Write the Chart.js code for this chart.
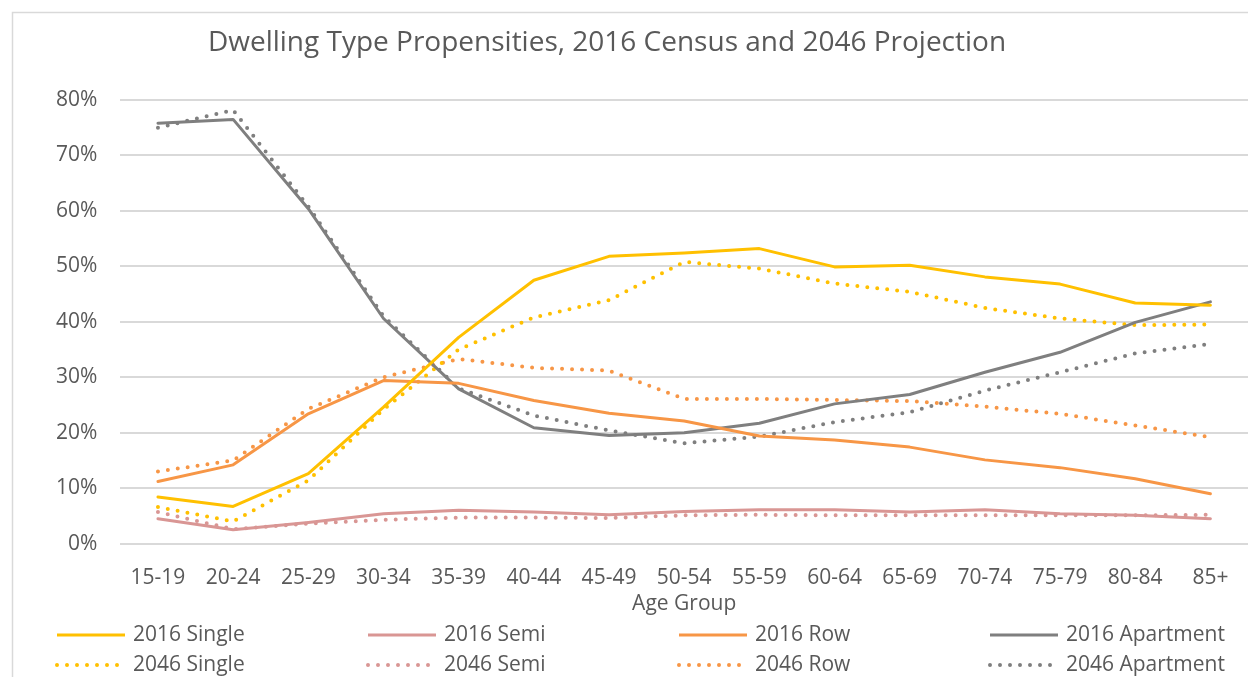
<!DOCTYPE html>
<html>
<head>
<meta charset="utf-8">
<script src="https://cdn.jsdelivr.net/npm/chart.js@4"></script>
<style>
  html, body { margin: 0; padding: 0; background: #fff; overflow: hidden; }
  #wrap { width: 1248px; height: 677px; }
</style>
</head>
<body>
<div id="wrap"><canvas id="myChart"></canvas></div>
<script>
var ageGroups = ["15-19", "20-24", "25-29", "30-34", "35-39", "40-44", "45-49", "50-54",
                 "55-59", "60-64", "65-69", "70-74", "75-79", "80-84", "85+"];

// values in percent
var single2016    = [8.4, 6.7, 12.6, 24.6, 37.2, 47.5, 51.8, 52.4, 53.2, 49.9, 50.2, 48.1, 46.8, 43.4, 43.0];
var semi2016      = [4.5, 2.5, 3.8, 5.4, 6.0, 5.7, 5.2, 5.8, 6.1, 6.1, 5.7, 6.1, 5.4, 5.1, 4.5];
var row2016       = [11.2, 14.2, 23.4, 29.4, 28.9, 25.8, 23.5, 22.1, 19.4, 18.7, 17.4, 15.1, 13.7, 11.7, 9.0];
var apartment2016 = [75.8, 76.5, 60.4, 40.6, 27.9, 20.9, 19.5, 20.0, 21.7, 25.2, 26.9, 30.9, 34.5, 39.9, 43.6];

var single2046    = [6.6, 4.0, 11.4, 24.2, 35.0, 40.8, 43.9, 50.8, 49.6, 46.9, 45.4, 42.5, 40.6, 39.4, 39.5];
var semi2046      = [5.7, 2.6, 3.6, 4.3, 4.7, 4.7, 4.6, 5.1, 5.2, 5.1, 5.1, 5.1, 5.1, 5.1, 5.2];
var row2046       = [13.0, 15.0, 24.3, 30.0, 33.3, 31.7, 31.2, 26.1, 26.1, 25.9, 25.7, 24.7, 23.4, 21.3, 19.2];
var apartment2046 = [75.0, 78.2, 60.8, 41.0, 28.0, 23.1, 20.4, 18.1, 19.3, 21.9, 23.7, 27.6, 30.9, 34.3, 36.0];

var yTicks = [0, 10, 20, 30, 40, 50, 60, 70, 80];

var colSingle = '#ffc000';
var colSemi = '#d99694';
var colRow = '#f79646';
var colApt = '#7f7f7f';
var textColor = '#595959';
var gridColor = '#d9d9d9';
var fontFamily = "'Open Sans', sans-serif";

function solid(label, data, color) {
    return {
        label: label, data: data, borderColor: color, backgroundColor: color,
        borderWidth: 3, pointRadius: 0, tension: 0, fill: false,
        borderCapStyle: 'round', borderJoinStyle: 'round'
    };
}
function dotted(label, data, color) {
    return {
        label: label, data: data, borderColor: color, backgroundColor: color,
        borderWidth: 4, borderDash: [0, 10], borderCapStyle: 'round',
        pointRadius: 0, tension: 0, fill: false
    };
}

// draws the frame, title and the 4-column legend
var decorPlugin = {
    id: 'decor',
    beforeDraw: function (chart) {
        var c = chart.ctx;
        c.save();
        c.strokeStyle = gridColor;
        c.lineWidth = 1.5;
        c.strokeRect(12.5, 12.5, 1400, 1000);
        c.restore();
    },
    afterDraw: function (chart) {
        var c = chart.ctx;
        c.save();
        c.fillStyle = textColor;
        c.font = "28px " + fontFamily;
        c.textAlign = 'center';
        c.textBaseline = 'middle';
        c.fillText('Dwelling Type Propensities, 2016 Census and 2046 Projection', 607, 43);

        c.font = "21px " + fontFamily;
        c.textAlign = 'left';
        chart.data.datasets.forEach(function (ds, i) {
            var x = 57 + (i % 4) * 311;
            var y = 635 + Math.floor(i / 4) * 30;
            c.strokeStyle = ds.borderColor;
            c.lineWidth = ds.borderWidth;
            c.lineCap = ds.borderDash ? 'round' : 'butt';
            c.setLineDash(ds.borderDash || []);
            c.beginPath();
            c.moveTo(x, y);
            c.lineTo(x + 68, y);
            c.stroke();
            c.fillStyle = textColor;
            c.fillText(ds.label, x + 76, y);
        });
        c.restore();
    }
};

var ctx = document.getElementById('myChart').getContext('2d');
var chart = new Chart(ctx, {
    type: 'line',
    data: {
        labels: ageGroups,
        datasets: [
            solid('2016 Single', single2016, colSingle),
            solid('2016 Semi', semi2016, colSemi),
            solid('2016 Row', row2016, colRow),
            solid('2016 Apartment', apartment2016, colApt),
            dotted('2046 Single', single2046, colSingle),
            dotted('2046 Semi', semi2046, colSemi),
            dotted('2046 Row', row2046, colRow),
            dotted('2046 Apartment', apartment2046, colApt)
        ]
    },
    options: {
        responsive: true,
        maintainAspectRatio: false,
        animation: false,
        layout: { padding: { top: 100, left: 33, right: 0, bottom: 60 } },
        plugins: {
            legend: { display: false },
            title: { display: false },
            tooltip: { enabled: false }
        },
        scales: {
            x: {
                offset: true,
                grid: { display: false },
                border: { display: false },
                ticks: { color: textColor, font: { family: fontFamily, size: 21 }, padding: 14, maxRotation: 0 },
                title: { display: true, text: 'Age Group', color: textColor,
                         font: { family: fontFamily, size: 21 }, padding: { top: -13, bottom: 0 } }
            },
            y: {
                min: 0,
                max: 80,
                afterBuildTicks: function (axis) {
                    axis.ticks = yTicks.map(function (v) { return { value: v }; });
                },
                grid: { color: gridColor, lineWidth: 2, drawTicks: false },
                border: { display: false },
                ticks: {
                    color: textColor, font: { family: fontFamily, size: 21 }, padding: 23,
                    callback: function (v) { return v + '%'; }
                }
            }
        }
    },
    plugins: [decorPlugin]
});
</script>
</body>
</html>
